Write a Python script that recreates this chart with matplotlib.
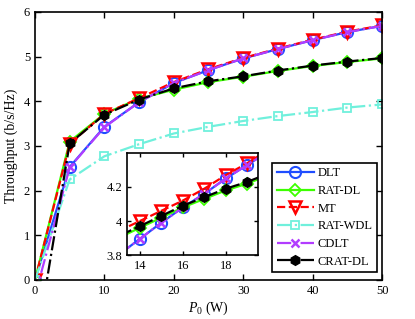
import matplotlib.pyplot as plt
import numpy as np

plt.rcParams['font.family'] = ['Liberation Serif', 'DejaVu Serif']
plt.rcParams['mathtext.fontset'] = 'custom'
plt.rcParams['mathtext.it'] = 'Liberation Serif:italic'
plt.rcParams['mathtext.rm'] = 'Liberation Serif'

# main plot data (P0 in W)
p0 = [0, 5, 10, 15, 20, 25, 30, 35, 40, 45, 50]
dlt = [0, 2.53, 3.43, 3.98, 4.41, 4.70, 4.96, 5.17, 5.37, 5.55, 5.69]
rat_dl = [0, 3.10, 3.72, 4.06, 4.26, 4.43, 4.55, 4.68, 4.79, 4.88, 4.96]
mt = [0, 3.05, 3.72, 4.07, 4.43, 4.72, 4.97, 5.18, 5.38, 5.56, 5.70]
rat_wdl = [0, 2.25, 2.77, 3.04, 3.28, 3.43, 3.56, 3.67, 3.76, 3.86, 3.93]
cdlt = [-0.35, 2.52, 3.42, 3.98, 4.41, 4.70, 4.96, 5.17, 5.37, 5.55, 5.69]
crat_dl = [-1.6, 3.06, 3.70, 4.04, 4.29, 4.45, 4.56, 4.69, 4.80, 4.89, 4.97]

# zoomed-in data
p0_zoom = [13, 14, 15, 16, 17, 18, 19, 20]
dlt_zoom = [3.80, 3.895, 3.99, 4.08, 4.16, 4.25, 4.33, 4.41]
rat_dl_zoom = [3.90, 3.96, 4.02, 4.08, 4.13, 4.18, 4.22, 4.27]
mt_zoom = [3.94, 4.00, 4.06, 4.12, 4.19, 4.27, 4.34, 4.42]
cdlt_zoom = [3.80, 3.895, 3.99, 4.08, 4.16, 4.25, 4.33, 4.41]
crat_dl_zoom = [3.91, 3.97, 4.03, 4.09, 4.14, 4.19, 4.23, 4.28]

labels = ["DLT", "RAT-DL", "MT", "RAT-WDL", "CDLT", "CRAT-DL"]

blue = '#1f4dff'
green = '#3cff00'
red = '#ff0000'
cyan = '#70f0dc'
purple = '#b23cff'

styles = [
    dict(color=blue, ls='-', marker='o', mfc='none', ms=8, mew=1.5),
    dict(color=green, ls='-', marker='D', mfc='none', ms=6, mew=1.3),
    dict(color=red, ls='--', marker='v', mfc='none', ms=8, mew=1.8),
    dict(color=cyan, ls='-.', marker='s', mfc='none', ms=6, mew=1.3),
    dict(color=purple, ls='-.', marker='x', ms=5.5, mew=1.8),
    dict(color='black', ls='-.', marker='h', mfc='black', ms=7, mew=1),
]

fig = plt.figure(figsize=(4.15, 3.19), dpi=100)
ax = fig.add_axes([0.0843, 0.1223, 0.8362, 0.8401])

series = [dlt, rat_dl, mt, rat_wdl, cdlt, crat_dl]
for y, lab, st in zip(series, labels, styles):
    ax.plot(p0, y, lw=1.6, label=lab, **st)

ax.set_xlim(0, 50)
ax.set_ylim(0, 6)
ax.set_xticks([0, 10, 20, 30, 40, 50])
ax.set_yticks([0, 1, 2, 3, 4, 5, 6])
ax.tick_params(direction='in', top=True, right=True, labelsize=9, length=4, width=1)
for s in ax.spines.values():
    s.set_linewidth(1.2)
ax.set_xlabel("$P_0$ (W)", fontsize=10, labelpad=2)
ax.set_ylabel("Throughput (b/s/Hz)", fontsize=10, labelpad=4)

leg = ax.legend(loc='lower right', bbox_to_anchor=(0.986, 0.03), borderaxespad=0,
                fontsize=9, handlelength=3, labelspacing=0.45, handletextpad=0.3,
                borderpad=0.35, fancybox=False, framealpha=1)
leg.get_frame().set_edgecolor('black')
leg.get_frame().set_linewidth(1.2)

# inset
axin = fig.add_axes([0.306, 0.2006, 0.3157, 0.3198])
zoom_series = [dlt_zoom, rat_dl_zoom, mt_zoom, None, cdlt_zoom, crat_dl_zoom]
for y, st in zip(zoom_series, styles):
    if y is None:
        continue
    axin.plot(p0_zoom, y, lw=1.6, **st)
axin.set_xlim(13.4, 19.5)
axin.set_ylim(3.8, 4.4)
axin.set_xticks([14, 16, 18])
axin.set_yticks([3.8, 4, 4.2])
axin.set_yticklabels(["3.8", "4", "4.2"])
axin.tick_params(direction='in', top=True, right=True, labelsize=9, length=3, width=1)
for s in axin.spines.values():
    s.set_linewidth(1.2)

plt.savefig("out.png", dpi=100)
plt.close()
